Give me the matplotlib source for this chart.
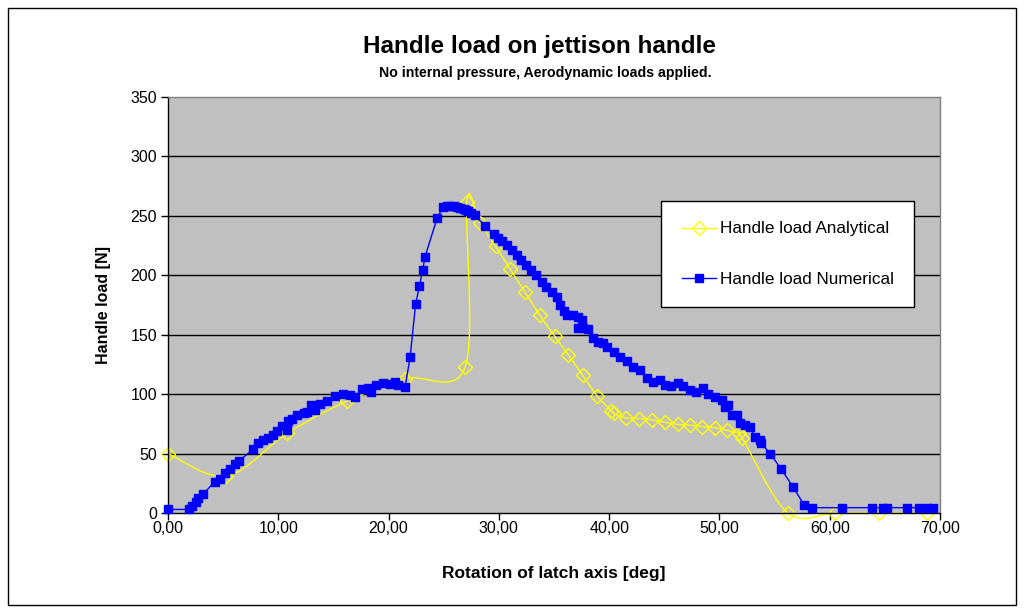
import numpy as np
import matplotlib
matplotlib.use("Agg")
import matplotlib.pyplot as plt
from matplotlib.patches import Rectangle
from matplotlib.ticker import FuncFormatter

plt.rcParams['font.family'] = ['Liberation Sans', 'DejaVu Sans']

# Analytical handle load (smoothed curve through these points)
analytical_x = [0.0, 5.3, 10.8, 16.2, 21.5, 26.95, 27.1, 28.3, 29.7, 31.0, 32.37,
                33.7, 35.05, 36.3, 37.6, 38.9, 40.2, 40.4, 41.5, 42.7, 43.9, 45.05,
                46.2, 47.3, 48.45, 49.6, 50.7, 51.8, 52.05, 56.2, 60.5, 64.5, 68.8]
analytical_y = [50, 31, 67, 94, 113, 123, 262, 244, 224.5, 205.5, 186,
                166.5, 149, 133, 116, 98.5, 86, 84, 80, 79.5, 78.3, 76.3,
                74.6, 74, 72.6, 71.8, 69.5, 67, 63.5, 0, 0, 0, 0]

# Numerical handle load
numerical_x = [0.0, 1.9, 2.2, 2.5, 2.7, 3.2, 4.25, 4.7, 5.15, 5.6, 6.05, 6.4,
               7.7, 8.2, 8.6, 9.05, 9.5, 9.9, 10.3, 10.75, 10.9, 11.2,
               11.7, 12.3, 12.6, 13.0, 13.3, 13.8, 14.4, 15.1, 15.9, 16.5, 17.0,
               17.55, 18.15, 18.45, 18.9, 19.5, 20.1, 20.6, 20.9, 21.5,
               21.95, 22.45, 22.8, 23.1, 23.3, 24.4, 24.95, 25.3, 25.6, 25.9,
               26.2, 26.5, 26.8, 27.0, 27.2, 27.5, 27.8,
               28.75, 29.55, 29.95, 30.3, 30.7, 31.15, 31.6, 32.05, 32.5, 32.95,
               33.4, 33.9, 34.3, 34.8, 35.25, 35.55, 35.9, 36.15, 36.7, 37.2,
               37.5, 37.2, 37.65, 38.1, 38.55, 39.0, 39.4, 39.8, 40.4, 41.0,
               41.6, 42.2, 42.8, 43.4, 44.0, 44.6, 45.05, 45.65, 46.25, 46.7,
               47.3, 47.9, 48.5, 49.0, 49.6, 50.2, 50.5, 50.8, 51.1, 51.55,
               51.85, 52.3, 52.75, 53.2, 53.65, 53.8, 54.6, 55.6, 56.7, 57.7,
               58.35, 61.1, 63.8, 64.8, 65.2, 67.0, 68.1, 68.8, 69.4]
numerical_y = [3, 3, 5.5, 9, 12.5, 16, 26.5, 29, 33.5, 37, 41, 43.5,
               53.5, 58.5, 61, 63, 65.5, 69, 73, 70, 77, 79.5,
               82.5, 84, 85, 91, 86.5, 92, 94.5, 98.5, 100.5, 99.5, 98,
               104, 105, 102, 107.5, 109, 108.5, 110.5, 107.5, 106,
               131, 175.5, 191, 204.5, 215.5, 248, 257.5, 258.5, 258.5, 258,
               257.5, 257, 256, 255, 254, 252.5, 250.5,
               241.5, 234.5, 231.5, 228.5, 225.5, 221.5, 217, 213, 208.5, 204.5,
               200, 194.5, 190.5, 186, 182, 175, 170, 166.5, 166.5, 164.5,
               162, 155.5, 155.5, 155, 147.5, 144, 143, 140, 135.5, 131.5,
               127.5, 123, 120, 113.5, 110.5, 112, 108, 107, 109, 107,
               103.5, 102, 105, 100.5, 98, 95, 89.5, 91, 82.5, 82.5,
               75.5, 74, 72.5, 64, 61.5, 58.5, 50, 37, 21.5, 6.5,
               4.5, 4.5, 4.5, 4.5, 4.5, 4.5, 4.5, 4.5, 4.5]

x_ticks = [0, 10, 20, 30, 40, 50, 60, 70]
y_ticks = [0, 50, 100, 150, 200, 250, 300, 350]


def smooth_curve(xs, ys, n=40):
    """Parametric Catmull-Rom (Bezier) smoothing through the given points."""
    p = np.column_stack([xs, ys]).astype(float)
    p_ext = np.vstack([p[0], p, p[-1]])
    t = np.linspace(0, 1, n)[:, None]
    out = []
    for i in range(1, len(p_ext) - 2):
        p0, p1, p2, p3 = p_ext[i - 1], p_ext[i], p_ext[i + 1], p_ext[i + 2]
        c1 = p1 + (p2 - p0) / 6.0
        c2 = p2 - (p3 - p1) / 6.0
        seg = ((1 - t) ** 3) * p1 + 3 * ((1 - t) ** 2) * t * c1 \
            + 3 * (1 - t) * t ** 2 * c2 + t ** 3 * p2
        out.append(seg if i == 1 else seg[1:])
    out = np.vstack(out)
    return out[:, 0], out[:, 1]


fig = plt.figure(figsize=(10.24, 6.13), dpi=100)
fig.patch.set_facecolor('white')
fig.patches.append(Rectangle((8 / 1024, 8 / 613), 1008 / 1024, 597 / 613,
                             transform=fig.transFigure, fill=False,
                             edgecolor='black', linewidth=1.0))

ax = fig.add_axes([168 / 1024, 100 / 613, 772 / 1024, 416 / 613])
ax.set_facecolor('#C0C0C0')

for yv in y_ticks[1:-1]:
    ax.axhline(yv, color='black', linewidth=1.0, zorder=1)

sx, sy = smooth_curve(analytical_x, analytical_y)
ax.plot(sx, sy, color='#FFFF00', linewidth=1.0, zorder=2, clip_on=False)
ax.plot(analytical_x, analytical_y, linestyle='none', marker='D',
        markersize=7.5, markerfacecolor='none', markeredgecolor='#FFFF00',
        markeredgewidth=1.0, zorder=2, clip_on=False)
ax.plot([], [], color='#FFFF00', linewidth=1.0, marker='D', markersize=7.5,
        markerfacecolor='none', markeredgecolor='#FFFF00',
        label='Handle load Analytical')

ax.plot(numerical_x, numerical_y, color='#0000FF', linewidth=1.0,
        marker='s', markersize=5.5, markerfacecolor='#0000FF',
        markeredgecolor='#0000FF', zorder=3, clip_on=False,
        label='Handle load Numerical')

ax.set_xlim(0, 70)
ax.set_ylim(0, 350)
ax.set_xticks(x_ticks)
ax.set_yticks(y_ticks)
ax.xaxis.set_major_formatter(FuncFormatter(lambda v, _: f"{v:.2f}".replace('.', ',')))
ax.tick_params(axis='both', direction='out', length=5, width=1, labelsize=11.5,
               colors='black')
ax.tick_params(axis='x', pad=0.5)
ax.tick_params(axis='y', pad=3)

for side in ('left', 'bottom'):
    ax.spines[side].set_color('black')
    ax.spines[side].set_linewidth(1.0)
for side in ('top', 'right'):
    ax.spines[side].set_color('#808080')
    ax.spines[side].set_linewidth(1.0)

ax.set_xlabel('Rotation of latch axis [deg]', fontsize=12.5, fontweight='bold',
              labelpad=22)
ax.set_ylabel('Handle load [N]', fontsize=11.5, fontweight='bold', labelpad=14)

fig.text(0.527, 1 - 47 / 613, 'Handle load on jettison handle', ha='center',
         va='center', fontsize=17.5, fontweight='bold')
fig.text(0.533, 1 - 73 / 613, 'No internal pressure, Aerodynamic loads applied.',
         ha='center', va='center', fontsize=10.2, fontweight='bold')

leg = ax.legend(loc='upper left', bbox_to_anchor=((661 - 168) / 772, (513 - 201) / 416),
                frameon=True, fancybox=False, edgecolor='black', facecolor='white',
                framealpha=1.0, fontsize=12.3, handlelength=2.0, handletextpad=0.25,
                labelspacing=2.05, borderpad=1.2, borderaxespad=0)
leg.get_frame().set_linewidth(1.0)

fig.savefig('out.png', dpi=100)
